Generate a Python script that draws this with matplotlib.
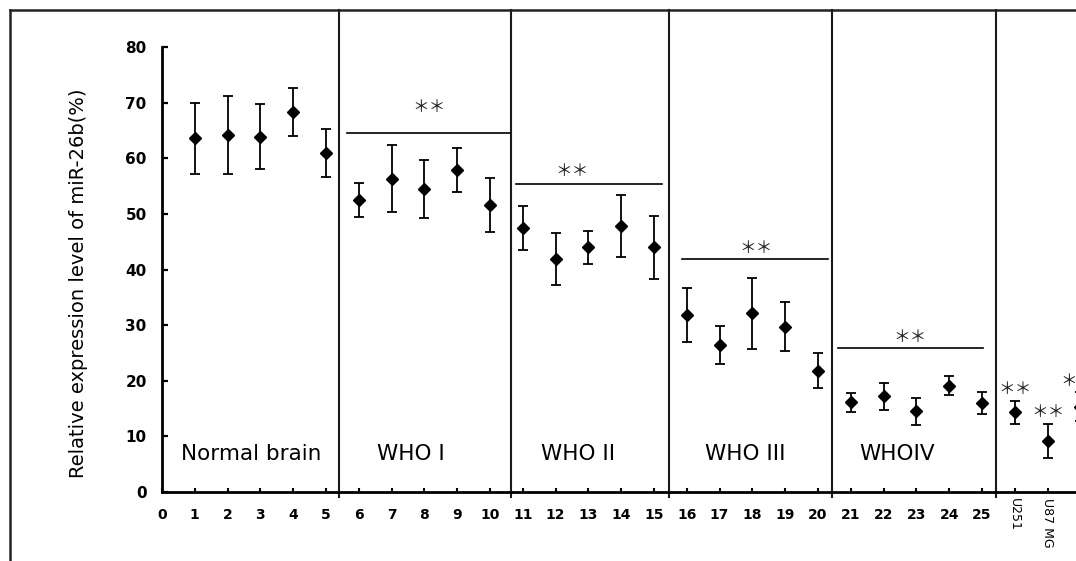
import matplotlib
matplotlib.use("Agg")
import matplotlib.pyplot as plt
from matplotlib.lines import Line2D

# ---------------- data ----------------
samples = list(range(1, 29))
means = [63.6, 64.2, 63.9, 68.3, 60.9,
         52.5, 56.3, 54.4, 57.9, 51.6,
         47.5, 41.9, 44.0, 47.8, 44.0,
         31.8, 26.5, 32.1, 29.7, 21.8,
         16.1, 17.2, 14.5, 19.1, 16.0,
         14.3, 9.2, 15.3]
errors = [6.4, 7.0, 5.9, 4.3, 4.3,
          3.0, 6.0, 5.2, 3.9, 4.8,
          4.0, 4.7, 3.0, 5.6, 5.7,
          4.8, 3.4, 6.4, 4.4, 3.1,
          1.7, 2.4, 2.4, 1.7, 1.9,
          2.1, 3.1, 2.6]
num_tick_labels = [str(i) for i in range(0, 26)]
cell_lines = ["U251", "U87 MG", "SHG44"]
group_names = ["Normal brain", "WHO I", "WHO II", "WHO III", "WHOIV"]
group_label_x = [2.71, 7.59, 12.68, 17.77, 22.4]
separators = [5.41, 10.63, 15.45, 20.44, 25.43]
sig_spans = [(5.64, 10.6), (10.8, 15.23), (15.85, 20.3), (20.6, 25.04)]
sig_levels = [64.6, 55.3, 41.8, 25.9]
star_pos = [(8.14, 69.1), (12.5, 57.7), (18.1, 43.8), (22.8, 27.8),
            (26.0, 18.4), (27.0, 14.3), (27.9, 19.85)]

# ---------------- figure ----------------
W, H = 1076, 561
fig = plt.figure(figsize=(W / 100, H / 100), dpi=100)
plt.rcParams['font.family'] = ['DejaVu Sans']

x0_px, y0_px, ytop_px = 162, 492, 47
unit_px = 32.8
xmax = 28.4
ax = fig.add_axes([x0_px / W, (H - y0_px) / H, xmax * unit_px / W, (y0_px - ytop_px) / H])
ax.set_xlim(0, xmax)
ax.set_ylim(0, 80)

for s in ("top", "right"):
    ax.spines[s].set_visible(False)
ax.spines["left"].set_linewidth(2.0)
ax.spines["bottom"].set_linewidth(2.0)
ax.spines["left"].set_bounds(0, 80)

ax.set_yticks(range(0, 81, 10))
ax.set_yticklabels([str(v) for v in range(0, 81, 10)], fontsize=11, fontweight="bold")
ax.tick_params(axis="y", direction="in", length=4.5, width=1.6, pad=11)

ax.set_xticks(range(0, 29))
ax.set_xticklabels(num_tick_labels + [""] * 3, fontsize=10, fontweight="bold")
ax.tick_params(axis="x", direction="in", length=3, width=1.5, pad=11.5)

# cell line labels (rotated)
for i, name in enumerate(cell_lines):
    ax.text(26 + i, -6 / 445, name, transform=ax.get_xaxis_transform(),
            rotation=270, ha="center", va="top", fontsize=9, clip_on=False)

# data points
ax.errorbar(samples, means, yerr=errors, fmt="D", color="black", ms=6.5,
            capsize=3.5, elinewidth=1.3, capthick=1.3, clip_on=False, zorder=3)

# separators (from outer frame to just below the axis)
ytop_data = (y0_px - 10) / ((y0_px - ytop_px) / 80)
for sx in separators:
    ax.plot([sx, sx], [-0.9, ytop_data], color="#1a1a1a", lw=1.5, clip_on=False)

# significance lines and stars
for (a, b), lvl in zip(sig_spans, sig_levels):
    ax.plot([a, b], [lvl, lvl], color="black", lw=1.2)
for sx, sy in star_pos:
    ax.text(sx, sy, "＊＊", ha="center", va="center", fontsize=12,
            family=["Noto Sans CJK SC", "DejaVu Sans"], color="#222222", clip_on=False)

# group names
for gx, name in zip(group_label_x, group_names):
    ax.text(gx, 5.75, name, ha="center", va="baseline", fontsize=15.5)

# y label
fig.text(79 / W, 1 - 283 / H, "Relative expression level of miR-26b(%)",
         rotation=90, ha="center", va="center", fontsize=14)

# outer frame lines
fig.add_artist(Line2D([10 / W, 10 / W], [0, 1 - 10 / H], transform=fig.transFigure,
                      color="#222222", lw=1.8))
fig.add_artist(Line2D([10 / W, 1], [1 - 10 / H, 1 - 10 / H], transform=fig.transFigure,
                      color="#222222", lw=1.8))

fig.savefig("out.png", dpi=100)
